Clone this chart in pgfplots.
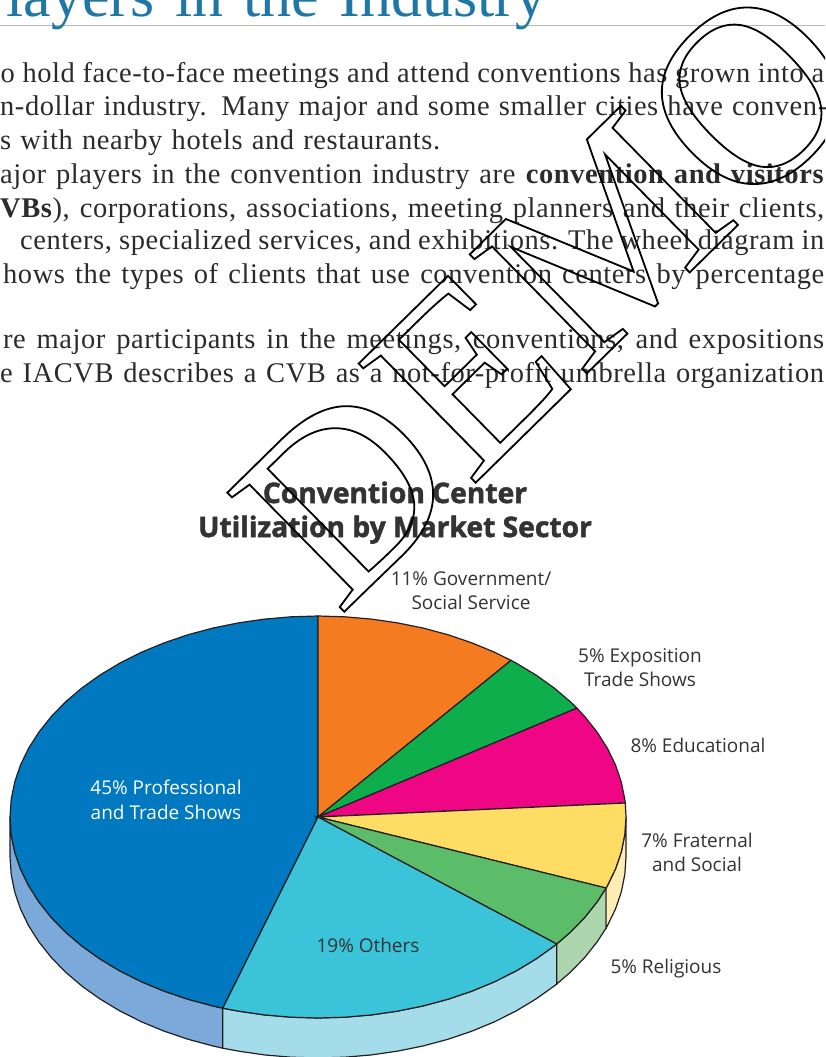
\documentclass[border=0pt]{standalone}
\usepackage{fontspec}
\usepackage{pgfplots}
\pgfplotsset{compat=1.18}
\setmainfont[LetterSpace=2.0]{Liberation Serif}
\newfontfamily\headf{Liberation Serif}
\newfontfamily\wmf{Liberation Serif}
\newfontfamily\lab{Open Sans}
\definecolor{bodyc}{HTML}{2B2B2B}
\definecolor{labc}{HTML}{333333}
\definecolor{edge}{HTML}{231F20}
\definecolor{headc}{HTML}{1F77A6}
\definecolor{cblue}{HTML}{0079C1}
\definecolor{ccyan}{HTML}{3BC4D9}
\definecolor{cgrn}{HTML}{5BBC6A}
\definecolor{cyel}{HTML}{FFDD65}
\definecolor{cmag}{HTML}{EF0685}
\definecolor{cgr2}{HTML}{0DAE4B}
\definecolor{cora}{HTML}{F47B20}
\definecolor{wblue}{HTML}{7BA9DA}
\definecolor{wcyan}{HTML}{A5DCE9}
\definecolor{wgrn}{HTML}{ADD6AE}
\definecolor{wyel}{HTML}{FFEDB5}
\newcommand\bodyfont{\fontsize{28.5}{30}\selectfont\color{bodyc}}
\newcommand\bl[4]{\node[anchor=base west,inner sep=0pt] at (axis cs:#1,#2) {\bodyfont\makebox[#3pt][s]{#4}};}
\newcommand\lb[4][labc]{\node[anchor=base,inner sep=0pt] at (axis cs:#2,#3) {\lab\fontsize{19}{22}\selectfont\color{#1}#4};}
\newcommand\ttl[3]{\node[anchor=base,inner sep=0pt] at (axis cs:#1,#2) {\lab\bfseries\fontsize{28.2}{30}\selectfont\color{labc}\special{pdf:code 0.2 G 2 Tr 0.5 w}#3\special{pdf:code 0 G 0 Tr 1 w}};}
\begin{document}
\begin{tikzpicture}
\path[use as bounding box] (0,0) rectangle (825pt,1057pt);
\clip (0,0) rectangle (825pt,1057pt);
\begin{axis}[at={(0,0)},anchor=south west,scale only axis,width=825pt,height=1057pt,
  xmin=0,xmax=825,ymin=0,ymax=1057,y dir=reverse,hide axis,clip=true]
% page header
\addplot[draw=black!28,line width=1pt] coordinates {(0,26) (825,26)};
\node[anchor=base west,inner sep=0pt] at (axis cs:-28,17) {\headf\fontsize{62}{62}\selectfont\color{headc}\makebox[574pt][s]{Players in the Industry}};
% body lines
\bl{-8}{82}{832}{to hold face-to-face meetings and attend conventions has grown into a}
\bl{0}{115}{827}{n-dollar industry. Many major and some smaller cities have conven-}
\bl{0}{149}{440}{s with nearby hotels and restaurants.}
\bl{0}{183}{824}{ajor players in the convention industry are \textbf{convention and visitors}}
\bl{0}{217}{824}{\textbf{VBs}), corporations, associations, meeting planners and their clients,}
\bl{20}{249}{804}{centers, specialized services, and exhibitions. The wheel diagram in}
\bl{3}{283}{821}{hows the types of clients that use convention centers by percentage}
\bl{3}{348}{821}{re major participants in the meetings, conventions, and expositions}
\bl{0}{382}{824}{e IACVB describes a CVB as a not-for-profit umbrella organization}
% walls
\addplot[fill=wblue,draw=edge,line width=1.2pt] coordinates {(10,817)(11.2,834.5)(14.7,851.9)(20.5,869)(28.6,885.7)(38.9,901.9)(51.3,917.5)(65.7,932.3)(82.1,946.2)(100.2,959.1)(120,971)(141.3,981.7)(164,991.1)(187.8,999.2)(212.7,1005.9)(222.8,1008.2)
 (222.8,1048.2)(212.7,1045.9)(187.8,1039.2)(164,1031.1)(141.3,1021.7)(120,1011)(100.2,999.1)(82.1,986.2)(65.7,972.3)(51.3,957.5)(38.9,941.9)(28.6,925.7)(20.5,909)(14.7,891.9)(11.2,874.5)(10,857)} --cycle;
\addplot[fill=wcyan,draw=edge,line width=1.2pt] coordinates {(222.8,1008.2)(238.3,1011.1)(264.5,1014.9)(291.2,1017.2)(318,1018)(344.8,1017.2)(371.5,1014.9)(397.7,1011.1)(423.3,1005.9)(448.2,999.2)(472,991.1)(494.7,981.7)(516,971)(535.8,959.1)(553.9,946.2)(556.7,944)
 (556.7,984)(553.9,986.2)(535.8,999.1)(516,1011)(494.7,1021.7)(472,1031.1)(448.2,1039.2)(423.3,1045.9)(397.7,1051.1)(371.5,1054.9)(344.8,1057.2)(318,1058)(291.2,1057.2)(264.5,1054.9)(238.3,1051.1)(222.8,1048.2)} --cycle;
\addplot[fill=wgrn,draw=edge,line width=1.2pt] coordinates {(556.7,944)(570.3,932.3)(584.7,917.5)(597.1,901.9)(606.1,888)
 (606.1,928)(597.1,941.9)(584.7,957.5)(570.3,972.3)(556.7,984)} --cycle;
\addplot[fill=wyel,draw=edge,line width=1.2pt] coordinates {(606.1,888)(607.4,885.7)(615.5,869)(621.3,851.9)(624.8,834.5)(626,817)
 (626,857)(624.8,874.5)(621.3,891.9)(615.5,909)(607.4,925.7)(606.1,928)} --cycle;
% top wedges
\addplot[fill=cblue,draw=edge,line width=1.2pt] coordinates {(318,817)(222.8,1008.2)(212.7,1005.9)(187.8,999.2)(164,991.1)(141.3,981.7)(120,971)(100.2,959.1)(82.1,946.2)(65.7,932.3)(51.3,917.5)(38.9,901.9)(28.6,885.7)(20.5,869)(14.7,851.9)(11.2,834.5)(10,817)(11.2,799.5)(14.7,782.1)(20.5,765)(28.6,748.3)(38.9,732.1)(51.3,716.5)(65.7,701.7)(82.1,687.8)(100.2,674.9)(120,663)(141.3,652.3)(164,642.9)(187.8,634.8)(212.7,628.1)(238.3,622.9)(264.5,619.1)(291.2,616.8)(318,616)} --cycle;
\addplot[fill=cora,draw=edge,line width=1.2pt] coordinates {(318,817)(318,616)(344.8,616.8)(371.5,619.1)(397.7,622.9)(423.3,628.1)(448.2,634.8)(472,642.9)(494.7,652.3)(511,660.4)} --cycle;
\addplot[fill=cgr2,draw=edge,line width=1.2pt] coordinates {(318,817)(511,660.4)(516,663)(535.8,674.9)(553.9,687.8)(570.3,701.7)(576.9,708.1)} --cycle;
\addplot[fill=cmag,draw=edge,line width=1.2pt] coordinates {(318,817)(576.9,708.1)(584.7,716.5)(597.1,732.1)(607.4,748.3)(615.5,765)(621.3,782.1)(624.8,799.5)(625.3,803)} --cycle;
\addplot[fill=cyel,draw=edge,line width=1.2pt] coordinates {(318,817)(625.3,803)(626,817)(624.8,834.5)(621.3,851.9)(615.5,869)(607.4,885.7)(606.1,888)} --cycle;
\addplot[fill=cgrn,draw=edge,line width=1.2pt] coordinates {(318,817)(606.1,888)(597.1,901.9)(584.7,917.5)(570.3,932.3)(556.7,944)} --cycle;
\addplot[fill=ccyan,draw=edge,line width=1.2pt] coordinates {(318,817)(556.7,944)(553.9,946.2)(535.8,959.1)(516,971)(494.7,981.7)(472,991.1)(448.2,999.2)(423.3,1005.9)(397.7,1011.1)(371.5,1014.9)(344.8,1017.2)(318,1018)(291.2,1017.2)(264.5,1014.9)(238.3,1011.1)(222.8,1008.2)} --cycle;
% titles and labels
\ttl{395}{503}{Convention Center}
\ttl{395}{537}{Utilization by Market Sector}
\lb[white]{166}{794}{45\% Professional}
\lb[white]{166}{819}{and Trade Shows}
\lb{368}{952}{19\% Others}
\lb{471}{585}{11\% Government/}
\lb{471}{609}{Social Service}
\lb{640}{662}{5\% Exposition}
\lb{640}{686}{Trade Shows}
\lb{698}{752}{8\% Educational}
\lb{697}{847}{7\% Fraternal}
\lb{697}{871}{and Social}
\lb{666}{973}{5\% Religious}
% watermark
\node[anchor=base west,inner sep=0pt,rotate=44.5] at (axis cs:339,617) {\wmf\fontsize{255}{255}\selectfont\special{pdf:code 1 Tr 1.8 w}DEMO\special{pdf:code 0 Tr 1 w}};
\end{axis}
\end{tikzpicture}
\end{document}
